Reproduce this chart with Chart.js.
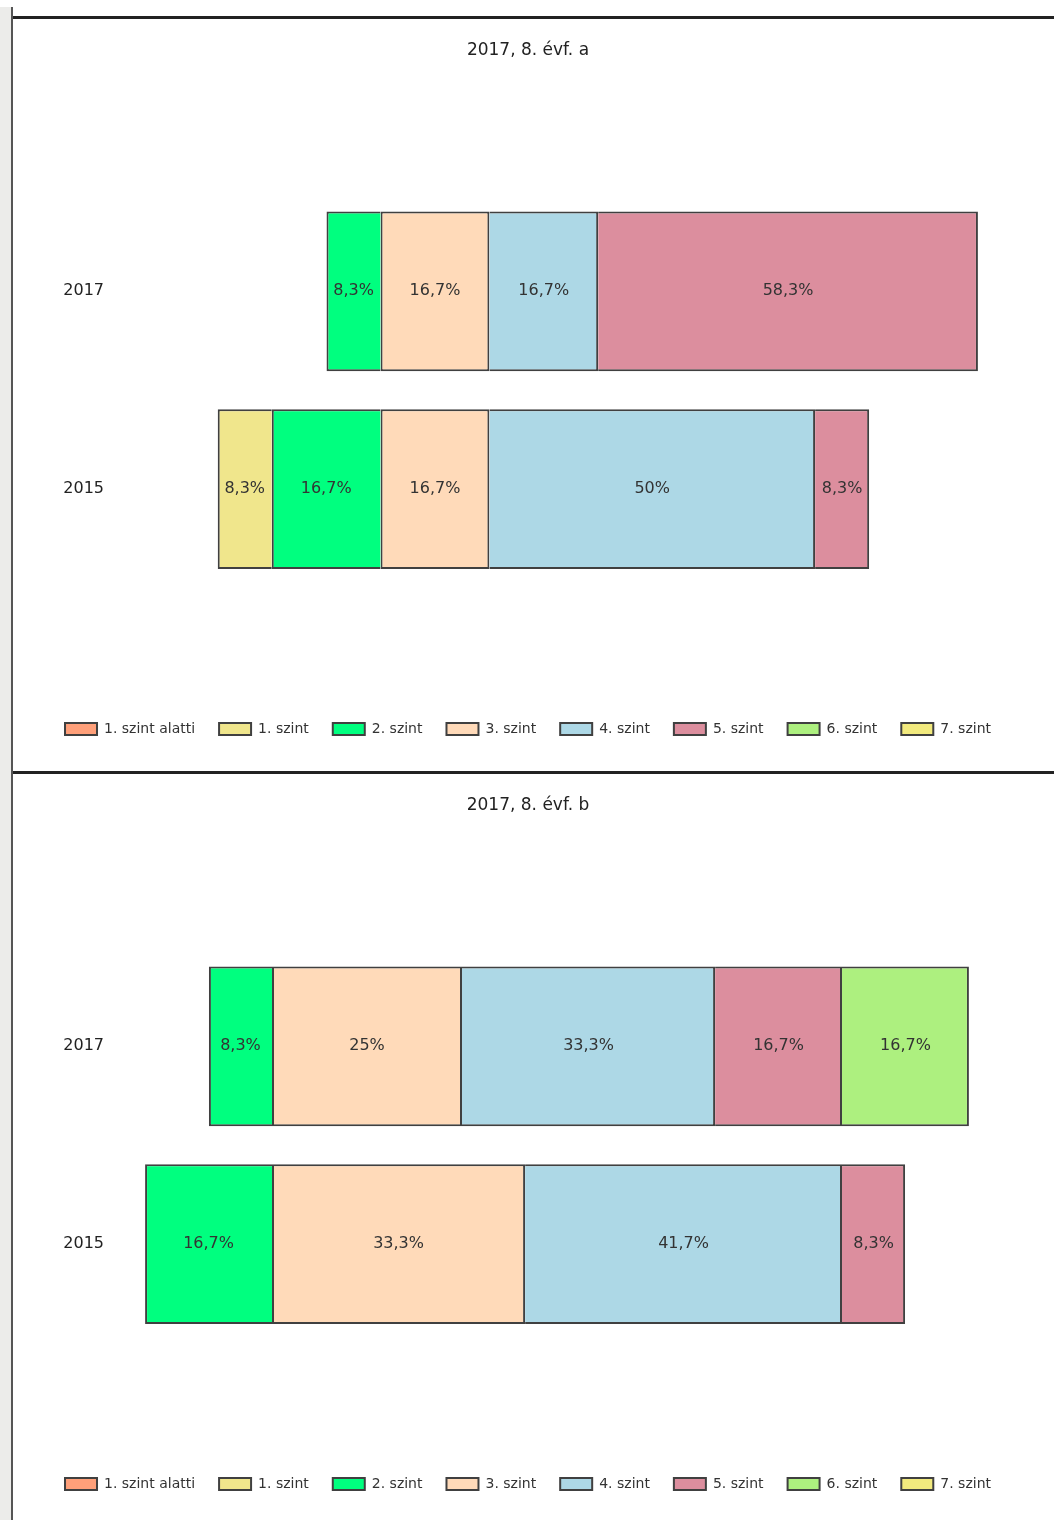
<!DOCTYPE html>
<html>
<head>
<meta charset="utf-8">
<title>Szintek</title>
<script src="https://cdn.jsdelivr.net/npm/chart.js@4.4.0/dist/chart.umd.min.js"></script>
<style>
html, body { margin: 0; padding: 0; background: #fff; overflow: hidden; }
#side { position: absolute; left: 0; top: 7px; width: 11px; height: 1513px; background: #ececea; border-right: 2px solid #555; }
.rule { position: absolute; left: 13px; width: 1041px; height: 3px; background: #222; }
.panel { position: absolute; left: 12px; width: 1042px; height: 752px; }
</style>
</head>
<body>
<div id="side"></div>
<div class="rule" style="top:16px"></div>
<div class="panel" style="top:19px"><canvas id="chartA"></canvas></div>
<div class="rule" style="top:771px"></div>
<div class="panel" style="top:774px"><canvas id="chartB"></canvas></div>

<script>
// szintek + szinek
var levels = ['1. szint alatti', '1. szint', '2. szint', '3. szint', '4. szint', '5. szint', '6. szint', '7. szint'];
var levelColors = ['#FFA07A', '#F0E68C', '#00FF7F', '#FFDAB9', '#ADD8E6', '#DC8E9E', '#ADF07F', '#F2EA7E'];
var years = ['2017', '2015'];
var belowZero = 3; // az elso 3 szint balra megy

// 8. evf. a  (%)
var a2017 = [0, 0, 8.3, 16.7, 16.7, 58.3, 0, 0];
var a2015 = [0, 8.3, 16.7, 16.7, 50, 8.3, 0, 0];
// 8. evf. b  (%)
var b2017 = [0, 0, 8.3, 25, 33.3, 16.7, 16.7, 0];
var b2015 = [0, 0, 16.7, 33.3, 41.7, 8.3, 0, 0];

var fontFamily = '"DejaVu Sans", sans-serif';

function fmt(v) {
    return String(v).replace('.', ',') + '%';
}

var segmentLabels = {
    id: 'segmentLabels',
    afterDatasetsDraw: function (chart) {
        var ctx = chart.ctx;
        ctx.save();
        ctx.font = '16px ' + fontFamily;
        ctx.fillStyle = '#333';
        ctx.textAlign = 'center';
        ctx.textBaseline = 'middle';
        chart.data.datasets.forEach(function (ds, i) {
            chart.getDatasetMeta(i).data.forEach(function (bar, j) {
                var v = ds.data[j];
                if (v === null) return;
                ctx.fillText(fmt(Math.abs(v)), (bar.x + bar.base) / 2, bar.y);
            });
        });
        ctx.restore();
    }
};

function makeChart(id, title, rows, xMin, xMax) {
    var datasets = levels.map(function (name, i) {
        return {
            label: name,
            data: rows.map(function (r) {
                if (!r[i]) return null;
                return i < belowZero ? -r[i] : r[i];
            }),
            backgroundColor: levelColors[i],
            borderColor: '#404040',
            borderWidth: 2,
            borderSkipped: i === belowZero ? false : 'start',
            // a nullahoz legkozelebbi szint legyen az elso a stackben
            order: i < belowZero ? belowZero - 1 - i : i
        };
    });

    return new Chart(document.getElementById(id), {
        type: 'bar',
        data: { labels: years, datasets: datasets },
        options: {
            indexAxis: 'y',
            responsive: true,
            maintainAspectRatio: false,
            animation: false,
            layout: { padding: { left: 12, right: 22, top: 0, bottom: 25 } },
            datasets: { bar: { categoryPercentage: 1, barPercentage: 0.808 } },
            scales: {
                x: {
                    stacked: true, min: xMin, max: xMax,
                    grid: { display: false, drawTicks: false },
                    border: { display: false },
                    ticks: { display: false },
                    afterFit: function (s) { s.height = 110; }
                },
                y: {
                    stacked: true,
                    grid: { display: false, drawTicks: false },
                    border: { display: false },
                    ticks: { color: '#222', font: { family: fontFamily, size: 16 }, padding: 16 },
                    afterFit: function (s) { s.width = 96; }
                }
            },
            plugins: {
                title: {
                    display: true, text: title, color: '#222',
                    font: { family: fontFamily, size: 17, weight: 'normal' },
                    padding: { top: 21, bottom: 132 }
                },
                legend: {
                    position: 'bottom',
                    labels: {
                        boxWidth: 32, boxHeight: 12, padding: 24, color: '#333',
                        font: { family: fontFamily, size: 14 },
                        sort: function (a, b) { return a.datasetIndex - b.datasetIndex; }
                    }
                },
                tooltip: { enabled: false }
            }
        },
        plugins: [segmentLabels]
    });
}

makeChart('chartA', '2017, 8. évf. a', [a2017, a2015], -40, 100);
makeChart('chartB', '2017, 8. évf. b', [b2017, b2015], -20, 100);
</script>
</body>
</html>
